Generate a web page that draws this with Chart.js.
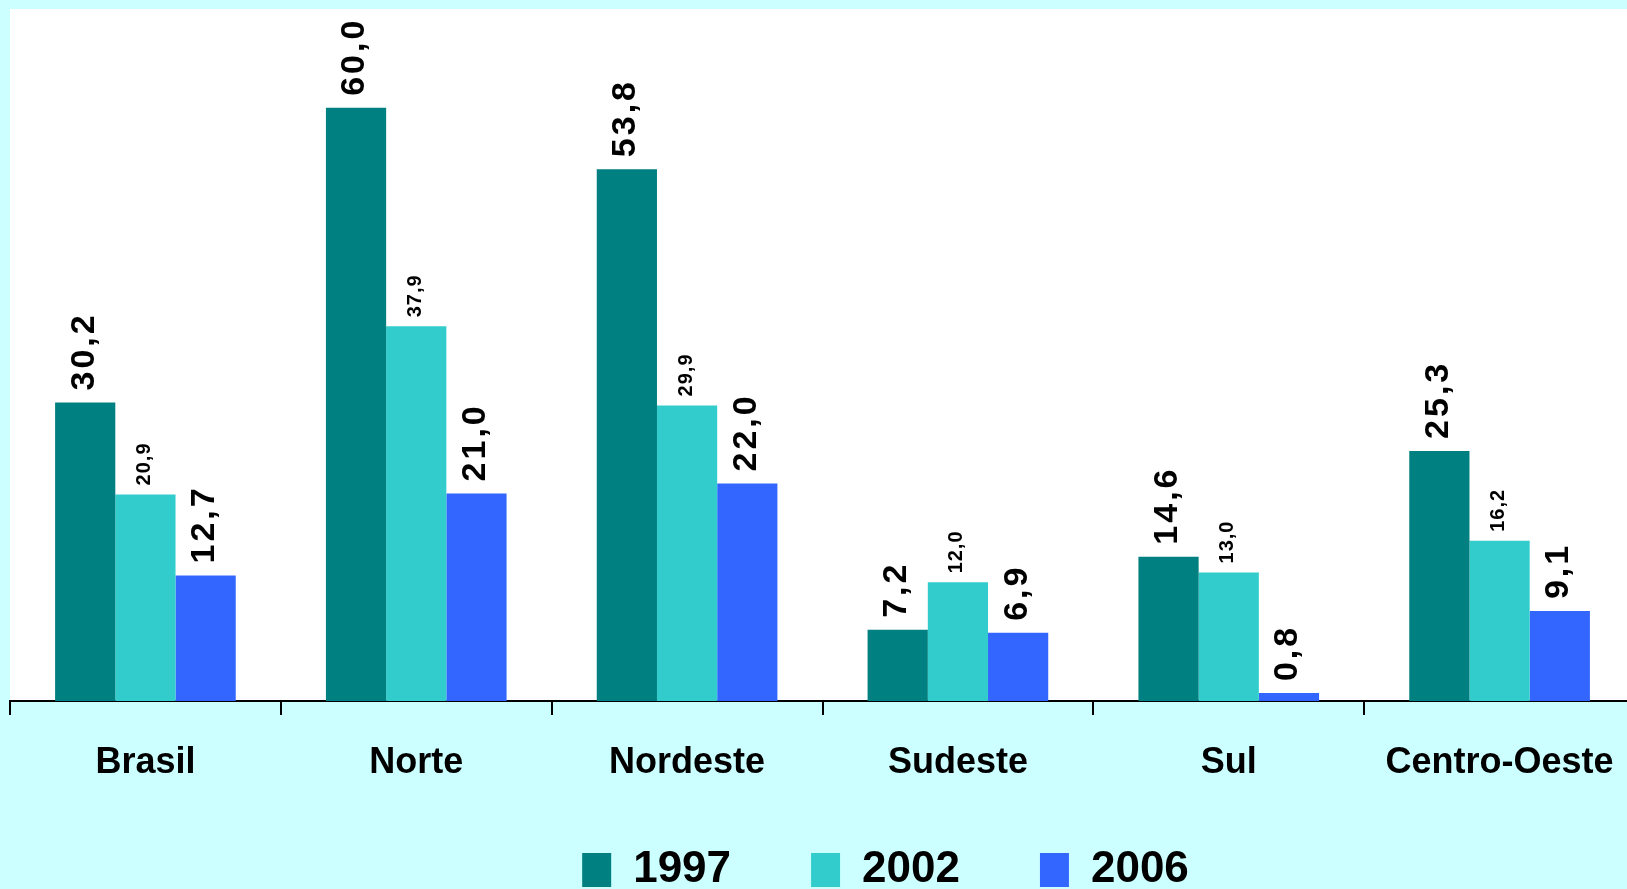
<!DOCTYPE html>
<html>
<head>
<meta charset="utf-8">
<script src="https://cdn.jsdelivr.net/npm/chart.js@4.4.1/dist/chart.umd.min.js"></script>
<style>
  html, body { margin: 0; padding: 0; background: #CCFFFF; overflow: hidden; }
  canvas { display: block; }
</style>
</head>
<body>
<canvas id="myChart" width="1645" height="902"></canvas>
<script>
// Regiões e valores por ano
var regioes = ['Brasil', 'Norte', 'Nordeste', 'Sudeste', 'Sul', 'Centro-Oeste'];
var anos = ['1997', '2002', '2006'];
var valores1997 = [30.2, 60.0, 53.8, 7.2, 14.6, 25.3];
var valores2002 = [20.9, 37.9, 29.9, 12.0, 13.0, 16.2];
var valores2006 = [12.7, 21.0, 22.0, 6.9, 0.8, 9.1];

var fonte = '"Liberation Sans", Arial, Helvetica, sans-serif';

// fundo branco da área do gráfico
var fundoArea = {
    id: 'fundoArea',
    beforeDraw: function(chart) {
        var a = chart.chartArea;
        var ctx = chart.ctx;
        ctx.save();
        ctx.fillStyle = '#ffffff';
        ctx.fillRect(a.left, a.top, a.right - a.left, a.bottom - a.top);
        ctx.restore();
    }
};

// rótulos de valor girados acima de cada barra
var rotulos = {
    id: 'rotulos',
    afterDatasetsDraw: function(chart) {
        var ctx = chart.ctx;
        chart.data.datasets.forEach(function(ds, i) {
            var meta = chart.getDatasetMeta(i);
            var pequeno = (i === 1);
            meta.data.forEach(function(bar, j) {
                ctx.save();
                ctx.translate(bar.x - 1, bar.y - (pequeno ? 9 : 12));
                ctx.rotate(-Math.PI / 2);
                ctx.font = 'bold ' + (pequeno ? 20 : 34) + 'px ' + fonte;
                ctx.letterSpacing = pequeno ? '1px' : '3px';
                ctx.fillStyle = '#000';
                ctx.textAlign = 'left';
                ctx.textBaseline = 'middle';
                ctx.fillText(ds.data[j].toFixed(1).replace('.', ','), 0, 0);
                ctx.restore();
            });
        });
    }
};

// a legenda do original fica deslocada para a direita;
// e os nomes das regiões não devem ser cortados pela caixa do eixo
var ajustes = {
    id: 'ajustes',
    afterLayout: function(chart) {
        chart.legend.left += 63;
        chart.legend.right += 63;
        chart.scales.x.bottom += 30;
    }
};

var ctx = document.getElementById('myChart').getContext('2d');
var myChart = new Chart(ctx, {
    type: 'bar',
    data: {
        labels: regioes,
        datasets: [
            { label: anos[0], data: valores1997, backgroundColor: '#008080', borderWidth: 0 },
            { label: anos[1], data: valores2002, backgroundColor: '#33CCCC', borderWidth: 0 },
            { label: anos[2], data: valores2006, backgroundColor: '#3366FF', borderWidth: 0 }
        ]
    },
    options: {
        responsive: false,
        animation: false,
        devicePixelRatio: 1,
        layout: { padding: { left: 10, top: 9, right: 10, bottom: 0 } },
        datasets: { bar: { categoryPercentage: 0.667, barPercentage: 1.0 } },
        plugins: {
            legend: {
                position: 'bottom',
                labels: {
                    boxWidth: 29,
                    boxHeight: 34,
                    padding: 80,
                    color: '#000',
                    font: { family: fonte, size: 44, weight: 'bold' }
                }
            },
            tooltip: { enabled: false }
        },
        scales: {
            x: {
                afterFit: function(scale) { scale.height = 67; },
                grid: {
                    offset: true,
                    drawOnChartArea: false,
                    drawTicks: true,
                    tickLength: 14,
                    color: '#000',
                    lineWidth: 2
                },
                border: { display: true, color: '#000', width: 2 },
                ticks: {
                    padding: 26,
                    color: '#000',
                    font: { family: fonte, size: 36, weight: 'bold' }
                }
            },
            y: {
                display: false,
                beginAtZero: true,
                min: 0,
                max: 70
            }
        }
    },
    plugins: [fundoArea, rotulos, ajustes]
});
</script>
</body>
</html>
